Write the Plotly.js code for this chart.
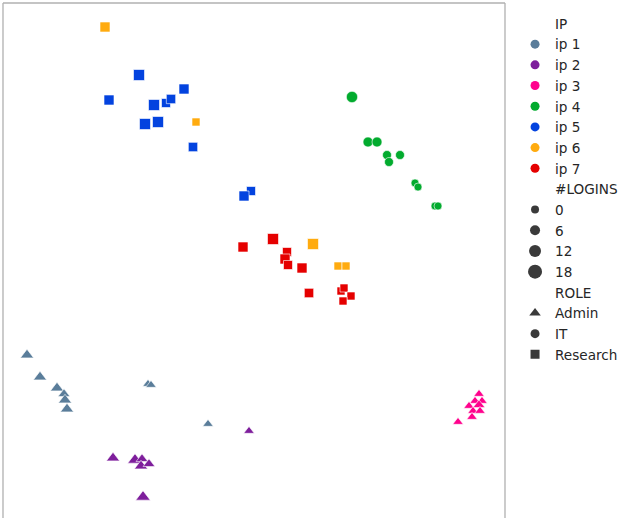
<!DOCTYPE html>
<html><head><meta charset="utf-8">
<script src="https://cdn.plot.ly/plotly-3.0.1.min.js"></script>
<style>html,body{margin:0;padding:0;overflow:hidden;background:#fff}</style>
</head><body><div id="chart" style="width:621px;height:518px"></div>
<script>
// ---- data (axes have no ticks, units = picture position) ----
const ipNames = ['ip 1','ip 2','ip 3','ip 4','ip 5','ip 6','ip 7'];
const ipColors = ['#5a7d9a','#7e1e9c','#ff028d','#02ab2e','#0343df','#ffab0f','#e50000'];
const ipRole = ['Admin','Admin','Admin','IT','Research','Research','Research'];
const roleNames = ['Admin','IT','Research'];
const roleSymbols = ['triangle-up','circle','square'];
const loginLegend = [0,6,12,18];

const pointIP = [
  1,1,1,1,1,1,1,1,1,
  2,2,2,2,2,2,2,
  3,3,3,3,3,3,3,3,3,
  4,4,4,4,4,4,4,4,4,4,
  5,5,5,5,5,5,5,5,5,5,5,
  6,6,6,6,6,
  7,7,7,7,7,7,7,7,7,7,7
];
const pointX = [
  27,40,57,64,65,67,148,151,208,
  249,113,135,142,141,149,143,
  479,475,482,469,479,473,480,472,458,
  352,368,377,387,400,389,415,418,435,438,
  139,109,184,154,166,171,145,158,193,251,244,
  105,196,313,338,346,
  243,273,287,285,288,302,309,341,344,351,343
];
const pointY = [
  355,377,388,394,400,409,384,385,424,
  431,458,460,459,466,464,497,
  394,401,401,406,405,411,411,417,422,
  97,142,142,155,155,162,183,187,206,206,
  75,100,89,105,103,99,124,122,147,191,196,
  27,122,244,266,266,
  247,239,252,259,265,268,293,291,288,296,301
];
const pointLogins = [
  6,6,6,3,6,6,0,0,0,
  0,6,9,3,6,3,9,
  0,0,0,0,3,0,0,0,0,
  10,6,6,3,3,3,0,0,0,0,
  9,6,6,9,3,4,9,9,4,3,6,
  6,0,9,0,0,
  6,9,3,6,3,6,4,0,0,0,0
];

// ---- styling ----
const roleScale = {Admin:1.15, IT:1, Research:1};
function sizeOf(logins, role){ return (8 + logins/3) * roleScale[role]; }
const legendGray = '#3a3a3a';

const traces = [];
ipNames.forEach((name, i) => {
  const idx = pointIP.map((p,k)=>p===i+1?k:-1).filter(k=>k>=0);
  const role = ipRole[i];
  traces.push({
    type:'scatter', mode:'markers', showlegend:false, hoverinfo:'skip',
    x: idx.map(k=>pointX[k]), y: idx.map(k=>pointY[k]),
    marker:{
      color: ipColors[i], opacity:1,
      symbol: roleSymbols[roleNames.indexOf(role)],
      size: idx.map(k=>sizeOf(pointLogins[k], role)),
      line:{color:'#ffffff', width:0.6}
    }
  });
});

function heading(text){
  return {type:'scatter', mode:'markers', x:[null], y:[null], name:text, showlegend:true,
    marker:{color:'rgba(0,0,0,0)', size:1}};
}
traces.push(heading('IP'));
ipNames.forEach((name,i)=>traces.push({type:'scatter', mode:'markers', x:[null], y:[null],
  name:name, marker:{color:ipColors[i], size:9, symbol:'circle', opacity:1}}));
traces.push(heading('#LOGINS'));
loginLegend.forEach(v=>traces.push({type:'scatter', mode:'markers', x:[null], y:[null],
  name:String(v), marker:{color:legendGray, size:sizeOf(v,'IT'), symbol:'circle', opacity:1}}));
traces.push(heading('ROLE'));
roleNames.forEach((r,i)=>traces.push({type:'scatter', mode:'markers', x:[null], y:[null],
  name:r, marker:{color:legendGray, size:(r==='Admin'?10:9), symbol:roleSymbols[i], opacity:1}}));

const frameColor = '#b0b0b0';
const layout = {
  width:621, height:518,
  margin:{l:3, r:116, t:3, b:0, pad:0, autoexpand:false},
  paper_bgcolor:'#ffffff', plot_bgcolor:'#ffffff',
  font:{family:'DejaVu Sans, sans-serif', color:'#262626', size:13.6},
  xaxis:{range:[3,505], showgrid:false, zeroline:false, showticklabels:false, ticks:'', showline:false},
  yaxis:{range:[518,3], showgrid:false, zeroline:false, showticklabels:false, ticks:'', showline:false},
  showlegend:true,
  legend:{x:1.02, xanchor:'left', y:0.99, yanchor:'top', bgcolor:'rgba(0,0,0,0)',
    borderwidth:0, font:{size:13.6, color:'#262626'}, itemclick:false},
  shapes:[
    {type:'line', xref:'paper', yref:'paper', x0:0, x1:0, y0:0, y1:1, line:{color:frameColor, width:1.3}},
    {type:'line', xref:'paper', yref:'paper', x0:0, x1:1, y0:1, y1:1, line:{color:frameColor, width:1.3}},
    {type:'line', xref:'paper', yref:'paper', x0:1, x1:1, y0:0, y1:1, line:{color:frameColor, width:1.3}}
  ]
};
Plotly.newPlot('chart', traces, layout, {displayModeBar:false, staticPlot:true});
</script></body></html>
